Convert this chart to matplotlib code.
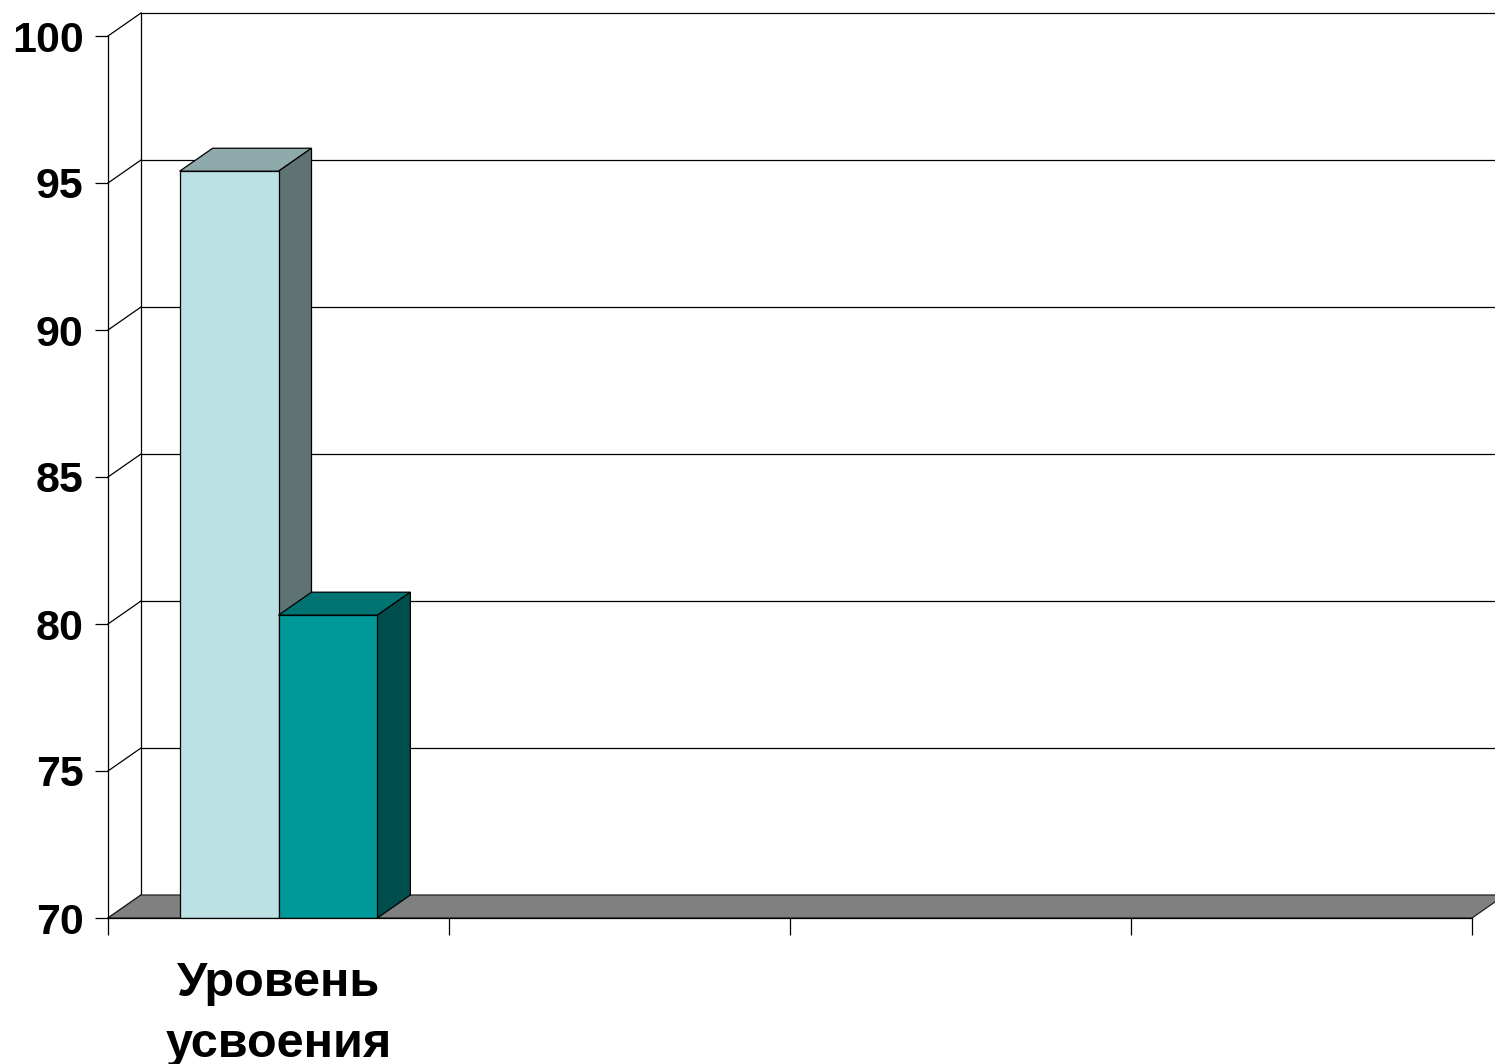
import matplotlib
matplotlib.use("Agg")
import matplotlib.pyplot as plt
from matplotlib.patches import Polygon

plt.rcParams['font.family'] = ['Liberation Sans', 'DejaVu Sans']

# data
categories = ['Уровень\nусвоения', '', '', '']
series_a = [95.4, None, None, None]
series_b = [80.3, None, None, None]
yticks = [70, 75, 80, 85, 90, 95, 100]

# colours: front, top, side
col_a = ('#bce0e3', '#8faaab', '#5f7373')
col_b = ('#009999', '#007373', '#004d4d')

W, H = 1495, 1064
fig = plt.figure(figsize=(W / 100, H / 100), dpi=100)
# front plane in pixels: x 108..1472, y 36..918
ax = fig.add_axes([108 / W, (H - 918) / H, (1472 - 108) / W, (918 - 36) / H])
ymin, ymax = yticks[0], yticks[-1]
ncat = len(categories)
ax.set_xlim(0, ncat)
ax.set_ylim(ymin, ymax)

# depth offset (pixels -> data units)
DX = 33 / ((1472 - 108) / ncat)
DY = 23 / ((918 - 36) / (ymax - ymin))

lw = 0.9
# floor
ax.add_patch(Polygon([(0, ymin), (ncat, ymin), (ncat + DX, ymin + DY), (DX, ymin + DY)],
                     closed=True, facecolor='#808080', edgecolor='#222222', lw=lw,
                     clip_on=False, zorder=1))
# back wall grid + side wall diagonals
for v in yticks:
    if v != ymin:
        ax.plot([DX, ncat + DX], [v + DY, v + DY], color='black', lw=lw, clip_on=False, zorder=0.5)
    ax.plot([0, DX], [v, v + DY], color='black', lw=lw, clip_on=False, zorder=0.5)
ax.plot([DX, DX], [ymin + DY, ymax + DY], color='black', lw=lw, clip_on=False, zorder=0.5)

# bars
bw = 0.29
def bar3d(x0, val, cols):
    x1 = x0 + bw
    ax.add_patch(Polygon([(x0, val), (x1, val), (x1 + DX, val + DY), (x0 + DX, val + DY)],
                         closed=True, facecolor=cols[1], edgecolor='black', lw=lw, zorder=3))
    ax.add_patch(Polygon([(x1, ymin), (x1, val), (x1 + DX, val + DY), (x1 + DX, ymin + DY)],
                         closed=True, facecolor=cols[2], edgecolor='black', lw=lw, zorder=3))
    ax.add_patch(Polygon([(x0, ymin), (x1, ymin), (x1, val), (x0, val)],
                         closed=True, facecolor=cols[0], edgecolor='black', lw=lw, zorder=3))

for i in range(ncat):
    c = i + 0.5
    if series_a[i] is not None:
        bar3d(c - bw, series_a[i], col_a)
    if series_b[i] is not None:
        bar3d(c, series_b[i], col_b)

# axes styling
for s in ['top', 'right']:
    ax.spines[s].set_visible(False)
ax.spines['left'].set_linewidth(lw)
ax.spines['bottom'].set_linewidth(lw)
ax.spines['bottom'].set_zorder(4)
ax.patch.set_visible(False)

ax.set_yticks(yticks)
ax.set_yticklabels([str(v) for v in yticks])
ax.tick_params(axis='y', direction='out', length=9.5, width=lw, pad=8,
               labelsize=31)
for t in ax.get_yticklabels():
    t.set_fontweight('bold')

ax.set_xticks(range(ncat + 1))
ax.set_xticklabels([])
ax.tick_params(axis='x', which='major', direction='out', length=12, width=lw)
ax.set_xticks([i + 0.5 for i in range(ncat)], minor=True)
ax.set_xticklabels(categories, minor=True)
ax.tick_params(axis='x', which='minor', length=0, pad=31, labelsize=35)
for t in ax.get_xticklabels(minor=True):
    t.set_fontweight('bold')
    t.set_linespacing(1.45)

fig.savefig('out.png', dpi=100)
